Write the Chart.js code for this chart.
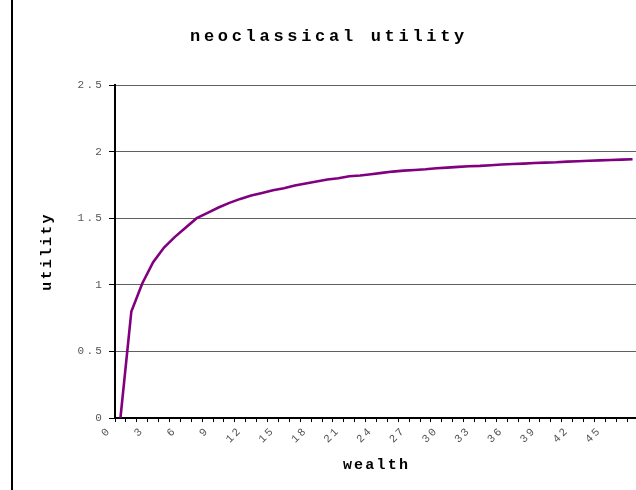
<!DOCTYPE html>
<html>
<head>
<meta charset="utf-8">
<script src="https://cdn.jsdelivr.net/npm/chart.js@4.4.1/dist/chart.umd.min.js"></script>
<style>
  html, body { margin: 0; padding: 0; background: #fff; overflow: hidden; }
  #wrap { position: relative; width: 636px; height: 490px; overflow: hidden; }
  #frame { position: absolute; left: 11px; top: 0; width: 2px; height: 490px; background: #000; }
  canvas { position: absolute; left: 0; top: 0; }
</style>
</head>
<body>
<div id="wrap">
  <canvas id="chart" width="660" height="490"></canvas>
  <div id="frame"></div>
</div>
<script>
// wealth levels on the category axis
const wealth = Array.from({ length: 48 }, (_, i) => String(i));

// utility at each wealth level
const utility = [
  0, 0.80, 1.01, 1.17, 1.28, 1.36, 1.43, 1.50, 1.54, 1.58,
  1.615, 1.645, 1.67, 1.69, 1.71, 1.725, 1.745, 1.76, 1.775, 1.79,
  1.80, 1.815, 1.82, 1.83, 1.84, 1.85, 1.857, 1.862, 1.867, 1.875,
  1.88, 1.885, 1.89, 1.893, 1.898, 1.903, 1.907, 1.91, 1.914, 1.917,
  1.92, 1.925, 1.928, 1.931, 1.934, 1.937, 1.94, 1.943
];

// every third wealth level gets a label
const labelEvery = 3;

const MONO = "'Liberation Mono', 'Courier New', monospace";

// wide character spacing for all chart text; the title is spaced wider still
const spacing = {
  id: 'spacing',
  afterInit(chart) {
    const block = chart.titleBlock;
    if (block) {
      const draw = block.draw.bind(block);
      block.draw = function (...args) {
        const c = chart.ctx;
        const prev = c.letterSpacing;
        c.letterSpacing = '3.7px';
        draw(...args);
        c.letterSpacing = prev;
      };
    }
  },
  beforeLayout(chart) { chart.ctx.letterSpacing = '2.2px'; },
  beforeDraw(chart) { chart.ctx.letterSpacing = '2.2px'; }
};

new Chart(document.getElementById('chart'), {
  type: 'line',
  data: {
    labels: wealth,
    datasets: [{
      data: utility,
      borderColor: '#800080',
      borderWidth: 2.6,
      pointRadius: 0,
      tension: 0,
      fill: false
    }]
  },
  options: {
    responsive: false,
    animation: false,
    layout: { padding: { left: 20, right: 22, top: 0, bottom: 10 } },
    plugins: {
      legend: { display: false },
      tooltip: { enabled: false },
      title: {
        display: true,
        text: 'neoclassical utility',
        color: '#000',
        font: { family: MONO, size: 17, weight: 'bold' },
        padding: { top: 27, bottom: 37.6 }
      }
    },
    scales: {
      x: {
        offset: true,
        grid: {
          offset: true,
          drawOnChartArea: false,
          drawTicks: true,
          tickLength: 4,
          tickColor: '#000'
        },
        border: { color: '#000', width: 2 },
        ticks: {
          autoSkip: false,
          maxRotation: 45,
          minRotation: 45,
          labelOffset: -11,
          padding: 2,
          color: '#555',
          font: { family: MONO, size: 11 },
          callback(value, index) {
            return index % labelEvery === 0 ? this.getLabelForValue(value) : '';
          }
        },
        title: {
          display: true,
          text: 'wealth',
          color: '#000',
          font: { family: MONO, size: 15, weight: 'bold' },
          padding: { top: 0, bottom: 6 }
        },
        afterFit(scale) { scale.height = 62; }
      },
      y: {
        min: 0,
        max: 2.5,
        ticks: {
          stepSize: 0.5,
          padding: 5,
          color: '#555',
          font: { family: MONO, size: 11 },
          callback: (value) => String(value)
        },
        grid: {
          color: '#606060',
          lineWidth: 1,
          tickLength: 6,
          tickColor: '#000'
        },
        border: { color: '#000', width: 2 },
        title: {
          display: true,
          text: 'utility',
          color: '#000',
          font: { family: MONO, size: 15, weight: 'bold' },
          padding: { top: 18, bottom: 0 }
        },
        afterFit(scale) { scale.width = 95; }
      }
    }
  },
  plugins: [spacing]
});
</script>
</body>
</html>
